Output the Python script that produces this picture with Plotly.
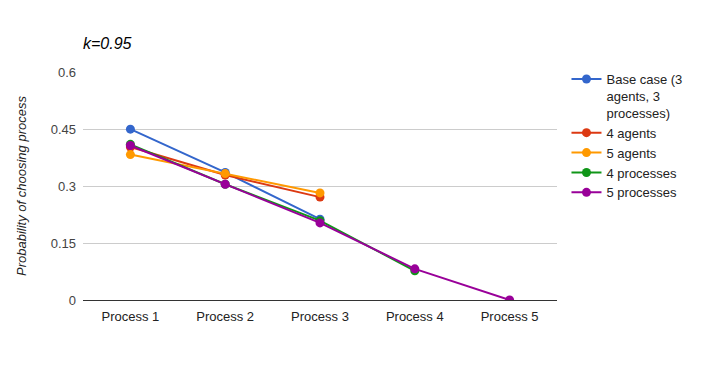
import plotly.graph_objects as go

# categories and series values
processes = ["Process 1", "Process 2", "Process 3", "Process 4", "Process 5"]
base_case = [0.45, 0.336, 0.213]
agents_4 = [0.403, 0.329, 0.271]
agents_5 = [0.383, 0.333, 0.282]
processes_4 = [0.41, 0.305, 0.209, 0.077]
processes_5 = [0.407, 0.305, 0.203, 0.082, 0.0]

series = [
    ("Base case (3<br>agents, 3<br>processes)", base_case, "#3366cc"),
    ("4 agents", agents_4, "#dc3912"),
    ("5 agents", agents_5, "#ff9900"),
    ("4 processes", processes_4, "#109618"),
    ("5 processes", processes_5, "#990099"),
]

fig = go.Figure()
for name, vals, col in series:
    fig.add_trace(go.Scatter(
        x=processes[:len(vals)], y=vals, name=name, mode="lines+markers",
        line=dict(color=col, width=2), marker=dict(color=col, size=9),
    ))

fig.update_layout(
    width=701, height=371,
    margin=dict(l=83, r=144, t=72, b=71, autoexpand=False),
    paper_bgcolor="white", plot_bgcolor="white",
    font=dict(family="Arial", size=13, color="#222"),
    title=dict(text="<i>k=0.95</i>", x=83 / 701, xanchor="left",
               y=1 - 43 / 371, yanchor="middle", font=dict(size=16, color="#000")),
    showlegend=True,
    legend=dict(x=1.02, xanchor="left", y=1.035, yanchor="top", valign="top",
                font=dict(size=13, color="#222"), tracegroupgap=0),
    xaxis=dict(type="category", range=[-0.5, 4.5], showgrid=False,
               ticks="", tickfont=dict(color="#222"), automargin=False,
               ticklabelstandoff=7),
    yaxis=dict(range=[0, 0.6005], tickvals=[0, 0.15, 0.3, 0.45, 0.6],
               ticktext=["0", "0.15", "0.3", "0.45", "0.6"],
               gridcolor="#cccccc", zeroline=True, zerolinecolor="#333",
               zerolinewidth=1, tickfont=dict(color="#444"), ticks="",
               ticklabelstandoff=6, automargin=False,
               title=dict(text="<i>Probability of choosing process</i>",
                          font=dict(size=13, color="#222"), standoff=21)),
)

fig.write_html("out.html", config={"displayModeBar": False},
               post_script="document.body.style.margin='0';")
